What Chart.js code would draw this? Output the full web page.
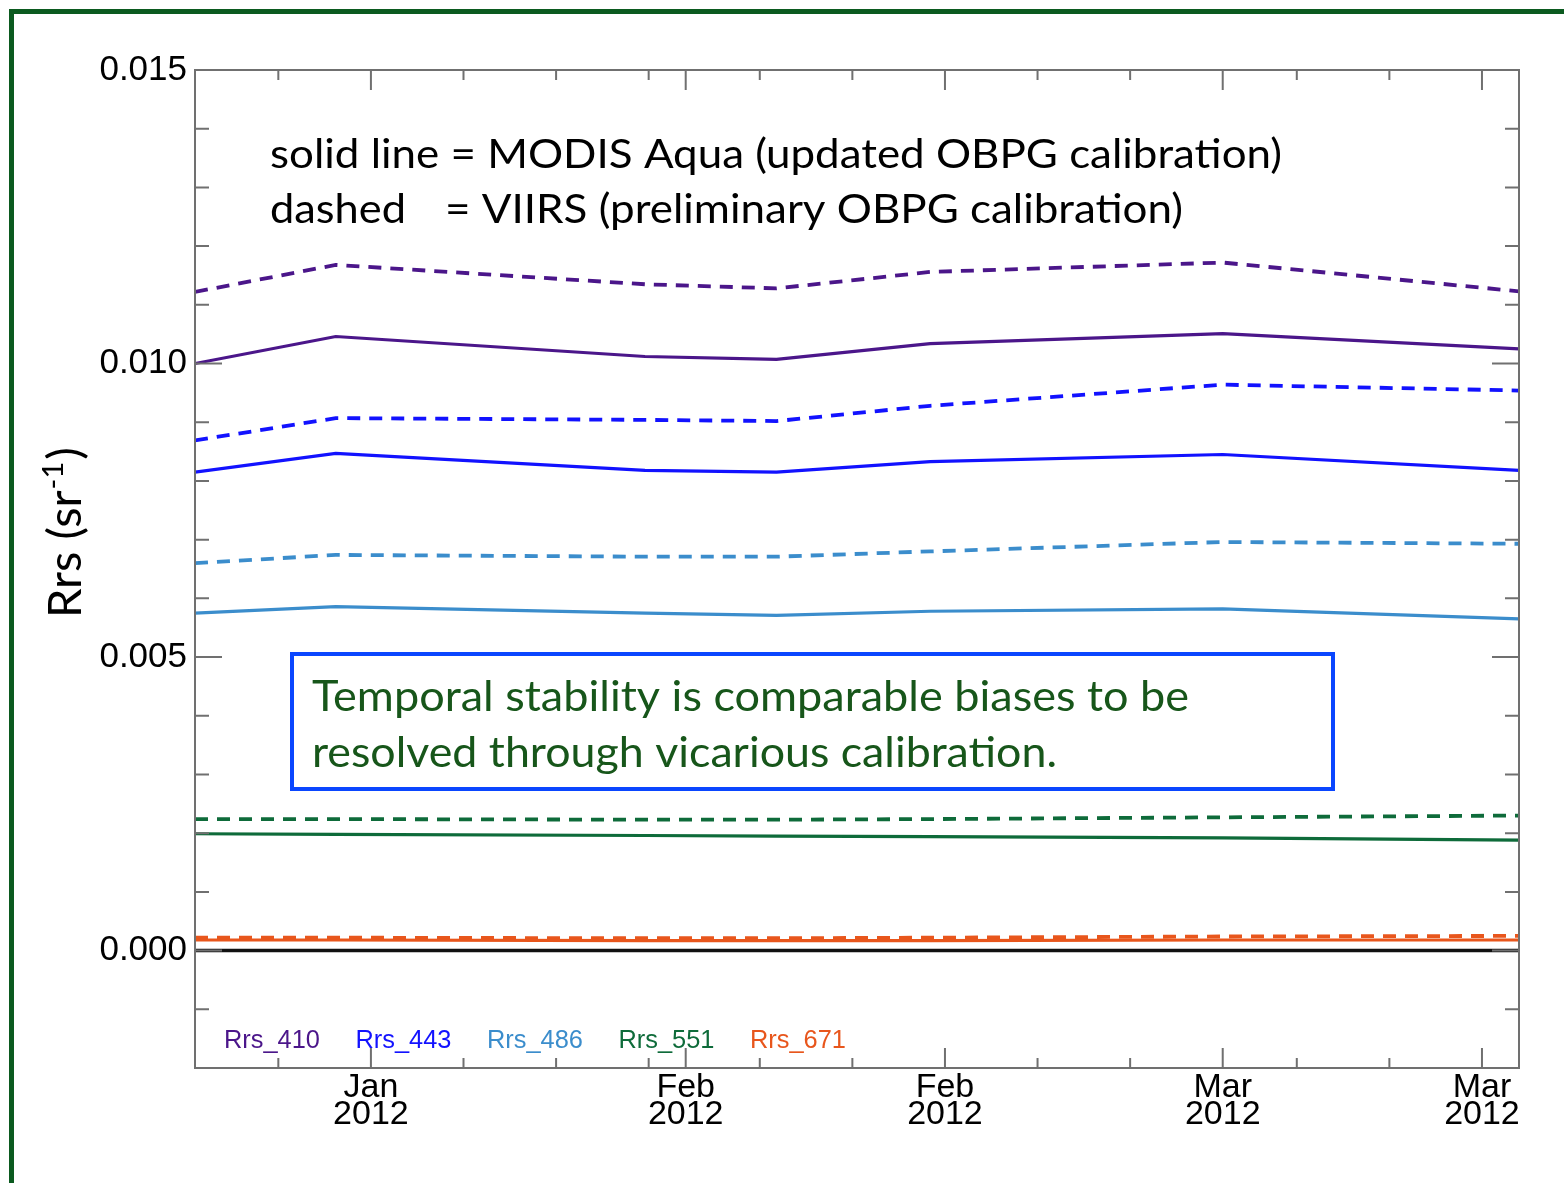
<!DOCTYPE html>
<html>
<head>
<meta charset="utf-8">
<title>Rrs time series</title>
<script src="https://cdn.jsdelivr.net/npm/chart.js@4.4.1/dist/chart.umd.min.js"></script>
<style>
  html, body { margin: 0; padding: 0; background: #fff; }
  #wrap { position: relative; width: 1564px; height: 1183px; overflow: hidden; }
  #frame {
    position: absolute; left: 9px; top: 9px; right: -10px; bottom: -10px;
    border-top: 5px solid #0b5a1f; border-left: 5px solid #0b5a1f;
    pointer-events: none;
  }
</style>
</head>
<body>
<div id="wrap">
  <canvas id="myChart" width="1564" height="1183"></canvas>
  <div id="frame"></div>
</div>
<script>
// x values are day of year 2012 (Jan 1 = 1)
var days = [5.5, 13.1, 29.8, 36.9, 45.2, 61.0, 77.0];

// MODIS Aqua (solid)
var rrs410Modis = [0.01000, 0.01046, 0.01012, 0.01007, 0.01034, 0.01051, 0.01025];
var rrs443Modis = [0.00815, 0.00847, 0.00818, 0.00815, 0.00833, 0.00845, 0.00818];
var rrs486Modis = [0.00575, 0.00586, 0.00575, 0.00571, 0.00578, 0.00582, 0.00565];
var rrs551Modis = [0.00199, 0.00198, 0.00196, 0.00195, 0.00194, 0.00192, 0.00188];
var rrs671Modis = [0.00018, 0.00018, 0.00017, 0.00017, 0.00017, 0.00018, 0.00018];

// VIIRS (dashed)
var rrs410Viirs = [0.01122, 0.01168, 0.01135, 0.01128, 0.01156, 0.01172, 0.01123];
var rrs443Viirs = [0.00869, 0.00907, 0.00904, 0.00902, 0.00928, 0.00964, 0.00954];
var rrs486Viirs = [0.00660, 0.00674, 0.00671, 0.00671, 0.00680, 0.00696, 0.00693];
var rrs551Viirs = [0.00224, 0.00224, 0.00223, 0.00223, 0.00224, 0.00227, 0.00230];
var rrs671Viirs = [0.00022, 0.00022, 0.00021, 0.00021, 0.00022, 0.00024, 0.00025];

var bandNames = ['Rrs_410', 'Rrs_443', 'Rrs_486', 'Rrs_551', 'Rrs_671'];
var bandColors = ['#4b168a', '#1212ff', '#3b8dcc', '#0e6b3a', '#e8561c'];

// x axis ticks
var majorDays = [15, 32, 46, 61, 75];
var majorLabels = ['Jan', 'Feb', 'Feb', 'Mar', 'Mar'];
var yearLabel = '2012';
var minorDays = [10, 20, 25, 30, 36, 41, 51, 56, 65, 70];

var noteLines = ['solid line = MODIS Aqua (updated OBPG calibration)', 'dashed', '= VIIRS (preliminary OBPG calibration)'];
var boxLines = ['Temporal stability is comparable biases to be', 'resolved through vicarious calibration.'];

//--------------------------------------------------------------
function toPoints(vals) {
  var pts = [];
  for (i = 0; i < vals.length; i++) {
    pts.push({x: days[i], y: vals[i]});
  }
  return pts;
}

var modisSets = [rrs410Modis, rrs443Modis, rrs486Modis, rrs551Modis, rrs671Modis];
var viirsSets = [rrs410Viirs, rrs443Viirs, rrs486Viirs, rrs551Viirs, rrs671Viirs];

var datasets = [];
for (var b = 0; b < bandNames.length; b++) {
  datasets.push({
    label: bandNames[b] + ' MODIS',
    data: toPoints(modisSets[b]),
    borderColor: bandColors[b],
    borderWidth: 3.2,
    pointRadius: 0,
    tension: 0
  });
  datasets.push({
    label: bandNames[b] + ' VIIRS',
    data: toPoints(viirsSets[b]),
    borderColor: bandColors[b],
    borderWidth: 3.8,
    borderDash: [13, 9],
    pointRadius: 0,
    tension: 0
  });
}

// squeeze text horizontally to a given width
function fitText(ctx, text, x, y, width) {
  var w = ctx.measureText(text).width;
  ctx.save();
  ctx.translate(x, y);
  ctx.scale(width / w, 1);
  ctx.fillText(text, 0, 0);
  ctx.restore();
}

var extras = {
  id: 'extras',
  beforeDatasetsDraw: function (chart) {
    var ctx = chart.ctx, ca = chart.chartArea;
    var y0 = chart.scales.y.getPixelForValue(0);
    ctx.save();
    ctx.strokeStyle = '#111';
    ctx.lineWidth = 3.5;
    ctx.beginPath();
    ctx.moveTo(ca.left, y0);
    ctx.lineTo(ca.right, y0);
    ctx.stroke();
    ctx.restore();
  },
  afterDatasetsDraw: function (chart) {
    var ctx = chart.ctx, ca = chart.chartArea;
    var xs = chart.scales.x, ys = chart.scales.y;
    ctx.save();

    // frame
    ctx.strokeStyle = '#707070';
    ctx.lineWidth = 2;
    ctx.strokeRect(ca.left, ca.top, ca.right - ca.left, ca.bottom - ca.top);

    // y ticks, inward on both sides
    ys.ticks.forEach(function (t) {
      var py = ys.getPixelForValue(t.value);
      var major = Math.abs(Math.round(t.value * 1000)) % 5 === 0;
      var len = major ? 27 : 14;
      ctx.beginPath();
      ctx.moveTo(ca.left, py); ctx.lineTo(ca.left + len, py);
      ctx.moveTo(ca.right, py); ctx.lineTo(ca.right - len, py);
      ctx.stroke();
    });

    // x ticks, inward on both sides
    function xTick(d, len) {
      var px = xs.getPixelForValue(d);
      ctx.beginPath();
      ctx.moveTo(px, ca.bottom); ctx.lineTo(px, ca.bottom - len);
      ctx.moveTo(px, ca.top); ctx.lineTo(px, ca.top + len);
      ctx.stroke();
    }
    majorDays.forEach(function (d) { xTick(d, 20); });
    minorDays.forEach(function (d) { xTick(d, 10); });

    // notes at top
    ctx.fillStyle = '#000';
    ctx.textBaseline = 'alphabetic';
    ctx.font = '40px Lato';
    fitText(ctx, noteLines[0], ca.left + 75, ca.top + 98, 1012);
    fitText(ctx, noteLines[1], ca.left + 75, ca.top + 153, 136);
    fitText(ctx, noteLines[2], ca.left + 250, ca.top + 153, 738);

    // blue box with green text
    ctx.strokeStyle = '#0a46ff';
    ctx.lineWidth = 4;
    ctx.strokeRect(ca.left + 97, ca.top + 584, 1041, 135);
    ctx.fillStyle = '#17561a';
    ctx.font = '42px Lato';
    fitText(ctx, boxLines[0], ca.left + 117, ca.top + 641, 877);
    fitText(ctx, boxLines[1], ca.left + 117, ca.top + 697, 745);

    // band legend
    ctx.font = '26px "Liberation Sans"';
    for (var k = 0; k < bandNames.length; k++) {
      ctx.fillStyle = bandColors[k];
      fitText(ctx, bandNames[k], ca.left + 29 + k * 131.5, ca.top + 978, 96);
    }
    ctx.restore();
  },
  afterDraw: function (chart) {
    var ctx = chart.ctx, ca = chart.chartArea;
    ctx.save();
    ctx.fillStyle = '#000';
    ctx.textBaseline = 'alphabetic';
    ctx.translate(ca.left - 114, ca.top + 548);
    ctx.rotate(-Math.PI / 2);
    ctx.font = '47px Lato';
    var a = 'Rrs (sr';
    ctx.fillText(a, 0, 0);
    var wa = ctx.measureText(a).width;
    ctx.font = '29px Lato';
    ctx.fillText('-1', wa + 1, -18);
    var ws = ctx.measureText('-1').width;
    ctx.font = '47px Lato';
    ctx.fillText(')', wa + ws + 3, 0);
    ctx.restore();
  }
};

var ctx = document.getElementById('myChart').getContext('2d');

var myChart = new Chart(ctx, {
  type: 'line',
  data: { datasets: datasets },
  options: {
    responsive: false,
    animation: false,
    layout: { padding: { top: 70, right: 45, left: 0, bottom: 0 } },
    plugins: { legend: { display: false }, tooltip: { enabled: false } },
    scales: {
      x: {
        type: 'linear',
        min: days[0],
        max: days[days.length - 1],
        grid: { display: false },
        border: { display: false },
        afterBuildTicks: function (scale) {
          scale.ticks = majorDays.map(function (d) { return {value: d}; });
        },
        afterFit: function (scale) { scale.height = 115; },
        ticks: {
          autoSkip: false,
          maxRotation: 0,
          padding: -2,
          color: '#000',
          font: { family: 'Liberation Sans', size: 34, lineHeight: 0.8 },
          callback: function (value) {
            var i = majorDays.indexOf(value);
            return i >= 0 ? [majorLabels[i], yearLabel] : '';
          }
        }
      },
      y: {
        type: 'linear',
        min: -0.002,
        max: 0.015,
        grid: { display: false },
        border: { display: false },
        afterFit: function (scale) { scale.width = 195; },
        ticks: {
          stepSize: 0.001,
          padding: 0,
          color: '#000',
          font: { family: 'Liberation Sans', size: 35 },
          callback: function (value) {
            return Math.abs(Math.round(value * 1000)) % 5 === 0 ? value.toFixed(3) : '';
          }
        }
      }
    }
  },
  plugins: [extras]
});
</script>
</body>
</html>
